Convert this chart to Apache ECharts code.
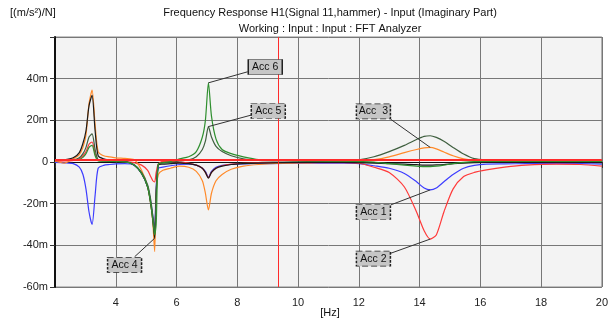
<!DOCTYPE html>
<html>
<head>
<meta charset="utf-8">
<script src="https://cdn.jsdelivr.net/npm/echarts@6/dist/echarts.min.js"></script>
<style>
  html, body { margin: 0; padding: 0; background: #fff; }
  #chart { width: 611px; height: 324px; }
</style>
</head>
<body>
<div id="chart"></div>
<script>
// frequency axis [Hz]
const freq = [2.0, 2.3, 2.6, 2.8, 2.92, 3.02, 3.12, 3.22, 3.32, 3.42,
  3.6, 3.8, 4.0, 4.3, 4.6, 4.85, 5.05, 5.15, 5.22, 5.28,
  5.33, 5.4, 5.55, 5.8, 6.1, 6.4, 6.65, 6.85, 6.95, 7.05,
  7.15, 7.3, 7.5, 7.8, 8.2, 8.7, 9.5, 10.5, 11.5, 12.0,
  12.5, 13.0, 13.5, 13.9, 14.15, 14.35, 14.55, 14.8, 15.1, 15.45,
  15.8, 16.2, 16.8, 17.5, 18.5, 19.3, 20.0];

// imaginary part, in m(s^-2)/N
const acc1 = [-0.2, -0.4, -0.8, -2.5, -6, -13, -24, -30, -16, -3,
  -1.6, -1.2, -0.9, -0.8, -1.5, -5.5, -12, -19, -26, -32,
  -12, -3, -2.5, -1.8, -1.2, -1.0, -1.5, -3, -4.5, -7.2,
  -4.5, -2.5, -1.6, -1.1, -0.9, -0.8, -0.7, -0.6, -0.6, -0.8,
  -1.8, -3, -5.5, -9.5, -12.5, -13.4, -12.5, -9.5, -6, -3,
  -1.6, -1.0, -0.9, -0.8, -0.8, -0.8, -1.0];
const acc2 = [0.3, 0.5, 0.8, 1.5, 3, 5, 8.5, 9.6, 4, 1,
  0.6, 0.4, 0.3, 0.2, -0.3, -1.5, -4, -7, -9, -9.6,
  -5, -1, 0.3, 0.3, 0, -0.5, -1.5, -3, -5, -7.5,
  -5, -3, -1.8, -1.0, -0.6, -0.4, -0.3, -0.3, -0.3, -0.6,
  -2.5, -5, -12, -24, -33, -37, -35, -24, -13, -7,
  -5, -3.8, -2.5, -1.5, -1.0, -1.2, -2];
const acc3 = [0.5, -0.5, 1.5, 3.5, 7, 13, 28, 34.5, 18, 5,
  3, 2.5, 2, 1.7, 1.2, -4, -12, -20, -29, -43,
  -15, -6, -4, -3, -2, -2.5, -4.5, -9, -15, -23,
  -15, -9, -6, -3.5, -2, -1.2, -0.6, -0.3, 0.3, 0.8,
  1.2, 2.5, 4.5, 6, 6.8, 7, 6.3, 4.8, 3, 1.5,
  0.8, 0.6, 0.5, 0.4, 0.4, 0.5, 0.5];
const acc4 = [0.8, 1.0, 2, 4.5, 9, 15, 27, 32, 15, 3,
  1.5, 1.0, 0.6, 0.3, -1.5, -5.5, -12, -20, -28, -36.6,
  -16, -1.5, -1, -0.8, -0.5, -0.8, -1.5, -3, -5, -7.7,
  -5, -3, -2, -1.2, -0.8, -0.5, -0.3, -0.2, -0.2, -0.3,
  -0.5, -0.8, -1, -1.3, -1.5, -1.5, -1.4, -1.2, -0.8, -0.5,
  -0.3, -0.2, -0.2, -0.2, -0.2, -0.2, -0.3];
const acc5 = [0.6, 0.8, 1.0, 2, 4, 7, 12, 13.5, 6, 1,
  0.5, 0.4, 0.3, 0.2, -1.2, -5, -11, -18, -26, -34,
  -14, -1.2, -0.6, -0.3, 0.5, 1.0, 2.5, 6, 10, 17,
  12, 7.5, 5, 3, 1.5, 0.8, 0.5, 0.3, 0.5, 1.0,
  2.5, 5, 8, 10.8, 12.3, 12.6, 11.8, 10, 7, 3.8,
  1.6, 1.0, 0.8, 0.6, 0.5, 0.5, 0.5];
const acc6 = [0.8, 0.9, 0.8, 1.2, 2.2, 4, 7, 8, 3, 0.5,
  0.4, 0.3, 0.2, 0.1, -1.3, -5.5, -12, -20, -28, -35,
  -30, -1, -0.3, 0.2, 1.5, 2.5, 5, 12, 20, 38,
  22, 11, 6, 4, 2.5, 1.2, 0.8, 0.5, 0.4, 0.2,
  0, -0.8, -1.5, -2, -2.2, -2.2, -2, -1.5, -0.8, -0.2,
  0.2, 0.3, 0.3, 0.3, 0.3, 0.3, 0.3];

const names = ['Acc 1', 'Acc 2', 'Acc  3', 'Acc 4', 'Acc 5', 'Acc 6'];
const colors = ['#3c3cff', '#ff3a3a', '#ff8a2a', '#1a1a1a', '#3f5f3f', '#2f8f2f'];
const values = [acc1, acc2, acc3, acc4, acc5, acc6];
// annotation boxes: box centre, leader start, index of the pointed sample
const boxCenter = [[12.48, -24.0], [12.48, -46.4], [12.48, 24.3], [4.29, -49.4], [9.02, 24.5], [8.92, 45.6]];
const leaderFrom = [[13.05, -20.6], [13.05, -43.8], [13.05, 20.5], [4.62, -45.5], [8.48, 22.6], [8.34, 43.3]];
const peakIdx = [45, 45, 45, 19, 29, 29];
const cursorHz = 9.34;
const cursorLevel = 1;

const chart = echarts.init(document.getElementById('chart'));
const font = 'Liberation Sans, Arial, sans-serif';

const series = values.map(function (arr, k) {
    const s = {
        name: names[k],
        type: 'line',
        data: freq.map(function (f, i) { return [f, arr[i]]; }),
        symbol: 'none',
        smooth: 0.25,
        lineStyle: { color: colors[k], width: 1.2 },
        itemStyle: { color: colors[k] },
        markPoint: {
            silent: true,
            data: [{
                coord: boxCenter[k],
                symbol: 'rect',
                symbolSize: [34, 15],
                itemStyle: {
                    color: '#c6c6c6',
                    borderColor: '#222',
                    borderWidth: 1,
                    borderType: k === 5 ? 'solid' : 'dashed'
                },
                label: {
                    show: true,
                    position: 'inside',
                    formatter: names[k],
                    color: '#111',
                    fontSize: 10.5,
                    fontFamily: font
                }
            }]
        },
        markLine: {
            silent: true,
            symbol: ['none', 'none'],
            label: { show: false },
            lineStyle: { color: '#333', width: 1, type: 'solid' },
            data: [[
                { coord: leaderFrom[k] },
                { coord: [freq[peakIdx[k]], arr[peakIdx[k]]] }
            ]]
        }
    };
    if (k === 1) {
        // red cursor lines
        s.markLine.data.push({ xAxis: cursorHz, lineStyle: { color: '#ff2a2a', width: 1, type: 'solid' } });
        s.markLine.data.push({ yAxis: cursorLevel, lineStyle: { color: '#ff2a2a', width: 2, type: 'solid' } });
    }
    return s;
});

const option = {
    animation: false,
    grid: {
        left: 55, right: 7, top: 37, bottom: 37,
        show: true,
        backgroundColor: '#f3f3f3',
        borderColor: '#8a8a8a',
        borderWidth: 1
    },
    graphic: [
        { type: 'text', x: 10, y: 13, style: { text: '[(m/s²)/N]', font: '11px ' + font, fill: '#111', textVerticalAlign: 'middle' } },
        { type: 'text', x: 330, y: 13, style: { text: 'Frequency Response H1(Signal 11,hammer) - Input (Imaginary Part)', font: '11px ' + font, fill: '#111', textAlign: 'center', textVerticalAlign: 'middle' } },
        { type: 'text', x: 330, y: 29, style: { text: 'Working : Input : Input : FFT Analyzer', font: '11px ' + font, fill: '#111', textAlign: 'center', textVerticalAlign: 'middle' } },
        { type: 'text', x: 330, y: 313, style: { text: '[Hz]', font: '11px ' + font, fill: '#111', textAlign: 'center', textVerticalAlign: 'middle' } }
    ],
    xAxis: {
        type: 'value',
        min: 2,
        max: 20,
        interval: 2,
        axisLine: { show: true, lineStyle: { color: '#111', width: 1 } },
        axisTick: { show: true, length: 6, lineStyle: { color: '#333' } },
        axisLabel: {
            color: '#222', fontSize: 11, fontFamily: font, margin: 10,
            formatter: function (v) { return v === 2 ? '' : String(v); }
        },
        splitLine: { show: true, lineStyle: { color: '#777', width: 1 } }
    },
    yAxis: {
        type: 'value',
        min: -60,
        max: 60,
        interval: 20,
        axisLine: { show: true, lineStyle: { color: '#111', width: 2 } },
        axisTick: { show: true, length: 5, lineStyle: { color: '#333' } },
        axisLabel: {
            color: '#222', fontSize: 11, fontFamily: font, margin: 7,
            formatter: function (v) {
                if (v >= 60) return '';
                return v === 0 ? '0' : v + 'm';
            }
        },
        splitLine: { show: true, lineStyle: { color: '#777', width: 1 } }
    },
    series: series
};
chart.setOption(option);
</script>
</body>
</html>
